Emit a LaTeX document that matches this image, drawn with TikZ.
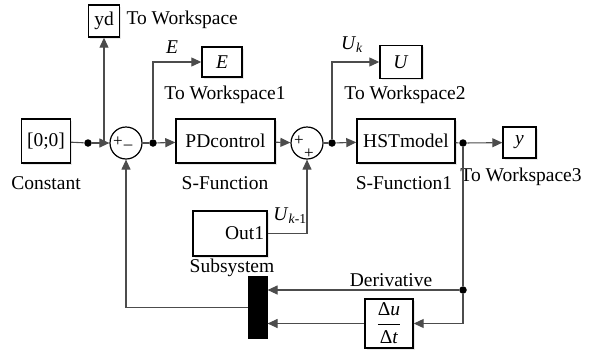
\documentclass[tikz,border=0pt]{standalone}
\usepackage{fontspec}
\setmainfont{Liberation Serif}
\usetikzlibrary{arrows.meta, shadows}
\definecolor{linec}{gray}{0.3}

\begin{document}
\begin{tikzpicture}[
		x=1pt, y=-1pt,
		line width=1.1pt,
		every node/.style={font=\fontsize{19.5}{21}\selectfont},
		blk/.style={draw=black, line width=1.4pt, fill=white, inner sep=0pt,
			drop shadow={shadow xshift=1.5pt, shadow yshift=-1.5pt, fill=gray!35}},
		sumc/.style={draw=black, line width=1.2pt, circle, minimum size=32pt, inner sep=0pt},
		dotn/.style={circle, fill=black, minimum size=7.5pt, inner sep=0pt},
		sig/.style={draw=linec, -{Triangle[length=10pt,width=9pt]}},
		wire/.style={draw=linec},
		desc/.style={inner sep=0pt},
		sgn/.style={font=\fontsize{17}{17}\selectfont, inner sep=0pt}
		]
	
	\useasboundingbox (0,0) rectangle (593,351);
	
	% Blocks
	\node[blk, minimum width=49pt, minimum height=44pt] (const) at (46,141) {[0;0]};
	\node[blk, minimum width=31pt, minimum height=32pt] (yd) at (104,21) {yd};
	\node[blk, minimum width=40pt, minimum height=30pt] (E) at (222,62) {\textit{E}};
	\node[blk, minimum width=99pt, minimum height=44pt] (pd) at (225.5,141) {PDcontrol};
	\node[blk, minimum width=42pt, minimum height=33pt] (U) at (401,62) {\textit{U}};
	\node[blk, minimum width=98pt, minimum height=44pt] (hst) at (406,141) {HSTmodel};
	\node[blk, minimum width=33pt, minimum height=31pt] (y) at (519.5,142.5) {\textit{y}};
	\node[blk, minimum width=74pt, minimum height=45pt, text width=68pt, align=right] (out1) at (230,233.5) {Out1};
	\node[blk, minimum width=48pt, minimum height=49pt] (deriv) at (389,323.5)
		{$\displaystyle\frac{\mbox{Δ\textit{u}}}{\mbox{Δ\textit{t}}}$};
	\node[draw=black, fill=black, minimum width=18pt, minimum height=61pt, inner sep=0pt] (mux) at (258,307.5) {};
	
	% Sums
	\node[sumc] (sum1) at (126,143) {};
	\node[sgn] at (118,142) {+};
	\node[sgn] at (128,147) {--};
	\node[sumc] (sum2) at (307,143) {};
	\node[sgn] at (299,141) {+};
	\node[sgn] at (309,154) {+};
	
	% Branch points
	\node[dotn] (dot1) at (88,143) {};
	\node[dotn] (dot2) at (153,143) {};
	\node[dotn] (dot3) at (332,143) {};
	\node[dotn] (dot4) at (463,143) {};
	\node[dotn] (dot5) at (463,290) {};
	
	% Labels
	\node[desc, anchor=west] at (126,20) {To Workspace};
	\node[desc] at (225,95) {To Workspace1};
	\node[desc] at (405,95) {To Workspace2};
	\node[desc] at (521,177) {To Workspace3};
	\node[desc] at (46,183) {Constant};
	\node[desc] at (225,183) {S-Function};
	\node[desc] at (404,183) {S-Function1};
	\node[desc] at (232,268) {Subsystem};
	\node[desc] at (391,280) {Derivative};
	\node[desc] at (172,47) {\textit{E}};
	\node[desc] at (352,45) {\textit{U}\textsubscript{\textit{k}}};
	\node[desc] at (290,216) {\textit{U}\textsubscript{\textit{k}-1}};
	
	% Signals
	\draw[wire] (const) -- (dot1);
	\draw[sig] (dot1) -- (sum1);
	\draw[sig] (yd |- dot1) -- (yd);
	\draw[wire] (sum1) -- (dot2);
	\draw[sig] (dot2) -- (pd);
	\draw[sig] (dot2) |- (E);
	\draw[sig] (pd) -- (sum2);
	\draw[wire] (sum2) -- (dot3);
	\draw[sig] (dot3) -- (hst);
	\draw[sig] (dot3) |- (U);
	\draw[wire] (hst) -- (dot4);
	\draw[sig] (dot4) -- (y);
	\draw[wire] (dot4) -- (dot5);
	\draw[sig] (dot5) -- (mux.east |- dot5);
	\draw[sig] (dot5) |- (deriv);
	\draw[sig] (deriv) -- (mux.east |- deriv);
	\draw[sig] (mux) -| (sum1);
	\draw[sig] (out1) -| (sum2);
	
\end{tikzpicture}
\end{document}
